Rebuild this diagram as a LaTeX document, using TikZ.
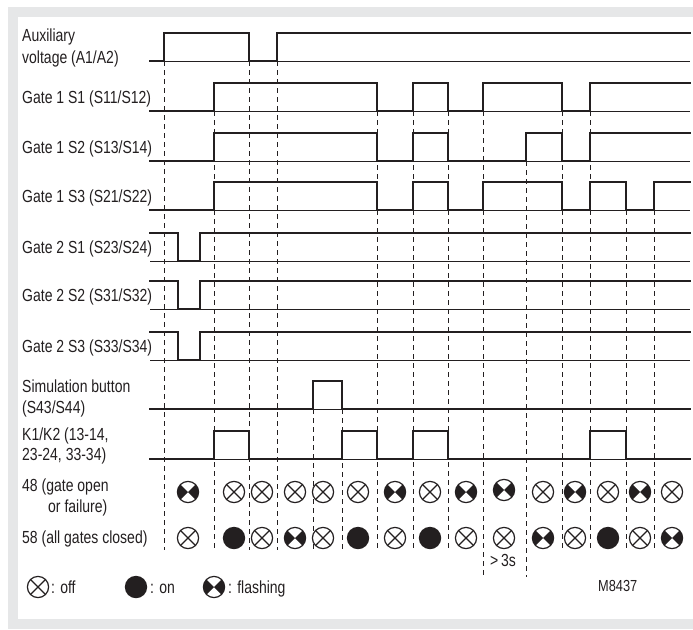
\documentclass[tikz,border=0pt]{standalone}
\usepackage{fontspec}
\setmainfont{Liberation Sans}[FakeStretch=0.8]
\definecolor{ink}{HTML}{231F20}
\definecolor{framegray}{HTML}{E6E7E8}
\tikzset{
  sig/.style={draw=ink, line width=2.4pt, line join=miter, line cap=rect},
  base/.style={draw=ink, line width=0.9pt},
  guide/.style={draw=ink, line width=0.9pt, dash pattern=on 5pt off 4pt},
  lampline/.style={draw=ink, line width=1.2pt},
  lab/.style={anchor=base west, inner sep=0pt, text=ink, font=\fontsize{17.5}{21}\selectfont},
}
\newcommand\lampoff[1]{\begin{scope}[shift={#1}]
  \draw[lampline, fill=white] (0,0) circle (10.6pt);
  \draw[lampline] (45:10.6pt) -- (225:10.6pt) (135:10.6pt) -- (-45:10.6pt);
\end{scope}}
\newcommand\lampon[1]{\begin{scope}[shift={#1}]
  \fill[ink] (0,0) circle (11.2pt);
\end{scope}}
\newcommand\lampflash[1]{\begin{scope}[shift={#1}]
  \fill[white] (0,0) circle (10.6pt);
  \fill[ink] (0,0) -- (135:10.6pt) arc[start angle=135, end angle=225, radius=10.6pt] -- cycle;
  \fill[ink] (0,0) -- (-45:10.6pt) arc[start angle=-45, end angle=45, radius=10.6pt] -- cycle;
  \draw[lampline] (0,0) circle (10.6pt);
\end{scope}}
\begin{document}
\begin{tikzpicture}[x=1pt, y=-1pt]
\useasboundingbox (0,0) rectangle (693,629);
% frame
\fill[white] (0,0) rectangle (693,629);
\fill[framegray] (8,7) rectangle (693,629);
\fill[white] (18,17) rectangle (693,619);

% dashed guide lines
\foreach \gx/\gt/\gb in {164/61/550, 214/111/550, 249/61/550, 277/61/550,
   313/409/550, 342/409/550, 377/111/550, 413/111/550, 448/111/550,
   483/111/577, 526/161/577, 562/111/550, 590/111/550, 626/210/550, 654/210/550}
  \draw[guide] (\gx,\gt) -- (\gx,\gb);

% row 1: auxiliary voltage
\begin{scope}[shift={(0,61)}]
  \draw[base] (150,0) -- (690,0);
  \draw[sig] (150,0) -- (164,0) |- (249,-28) |- (277,0) |- (690,-28);
\end{scope}
% row 2: gate 1 S1
\begin{scope}[shift={(0,111)}]
  \draw[base] (150,0) -- (690,0);
  \draw[sig] (150,0) -- (214,0) |- (377,-28) |- (413,0) |- (448,-28) |- (483,0) |- (562,-28) |- (590,0) |- (690,-28);
\end{scope}
% row 3: gate 1 S2
\begin{scope}[shift={(0,161)}]
  \draw[base] (150,0) -- (690,0);
  \draw[sig] (150,0) -- (214,0) |- (377,-28) |- (413,0) |- (448,-28) |- (526,0) |- (562,-28) |- (590,0) |- (690,-28);
\end{scope}
% row 4: gate 1 S3
\begin{scope}[shift={(0,210)}]
  \draw[base] (150,0) -- (690,0);
  \draw[sig] (150,0) -- (214,0) |- (377,-28) |- (413,0) |- (448,-28) |- (483,0) |- (562,-28) |- (590,0) |- (626,-28) |- (654,0) |- (690,-28);
\end{scope}
% rows 5-7: gate 2
\foreach \ry in {261, 309, 360}{
\begin{scope}[shift={(0,\ry)}]
  \draw[base] (150,0) -- (690,0);
  \draw[sig] (150,-28) -- (178,-28) |- (200,0) |- (690,-28);
\end{scope}}
% row 8: simulation button
\begin{scope}[shift={(0,409)}]
  \draw[base] (150,0) -- (690,0);
  \draw[sig] (150,0) -- (313,0) |- (342,-28) |- (690,0);
\end{scope}
% row 9: K1/K2
\begin{scope}[shift={(0,459)}]
  \draw[base] (150,0) -- (690,0);
  \draw[sig] (150,0) -- (214,0) |- (249,-28) |- (342,0) |- (377,-28) |- (413,0) |- (448,-28) |- (590,0) |- (626,-28) |- (690,0);
\end{scope}

% labels
\node[lab] (aux1) at (22,41) {Auxiliary};
\node[lab] (aux2) at (22,63) {voltage (A1/A2)};
\node[lab] (g1s1) at (22,103) {Gate 1 S1 (S11/S12)};
\node[lab] (g1s2) at (22,153) {Gate 1 S2 (S13/S14)};
\node[lab] (g1s3) at (22,202) {Gate 1 S3 (S21/S22)};
\node[lab] (g2s1) at (22,253) {Gate 2 S1 (S23/S24)};
\node[lab] (g2s2) at (22,301) {Gate 2 S2 (S31/S32)};
\node[lab] (g2s3) at (22,352) {Gate 2 S3 (S33/S34)};
\node[lab] (sim1) at (22,392) {Simulation button};
\node[lab] (sim2) at (22,413) {(S43/S44)};
\node[lab] (k1) at (22,440) {K1/K2 (13-14,};
\node[lab] (k2) at (22,460) {23-24, 33-34)};
\node[lab] (l48a) at (22,491) {48 (gate open};
\node[lab] (l48b) at (48,512) {or failure)};
\node[lab] (l58) at (22,543) {58 (all gates closed)};

% lamps, row 48
\lampflash{(188,492)} \lampoff{(234,492)} \lampoff{(262,492)} \lampoff{(295,492)}
\lampoff{(323,492)} \lampoff{(358,492)} \lampflash{(395,492)} \lampoff{(430,492)}
\lampflash{(466,492)} \lampflash{(504,490)} \lampoff{(543,492)} \lampflash{(575,492)}
\lampoff{(608,492)} \lampflash{(640,492)} \lampoff{(672,492)}
% lamps, row 58
\lampoff{(188,538)} \lampon{(234,538)} \lampoff{(262,538)} \lampflash{(295,538)}
\lampoff{(323,538)} \lampon{(358,538)} \lampoff{(395,538)} \lampon{(430,538)}
\lampoff{(466,538)} \lampoff{(504,538)} \lampflash{(543,538)} \lampoff{(575,538)}
\lampon{(608,538)} \lampoff{(640,538)} \lampflash{(672,538)}

% >3s
\node[lab, anchor=base] (gt3) at (503,566) {>\,3s};

% legend
\lampoff{(38,587)}
\node[lab] (loff) at (51,593) {: off};
\lampon{(136,587)}
\node[lab] (lon) at (150,593) {: on};
\lampflash{(214,587)}
\node[lab] (lflash) at (228,593) {: flashing};
\node[lab, font=\fontsize{16}{19}\selectfont] (code) at (598,591) {M8437};
\end{tikzpicture}
\end{document}
